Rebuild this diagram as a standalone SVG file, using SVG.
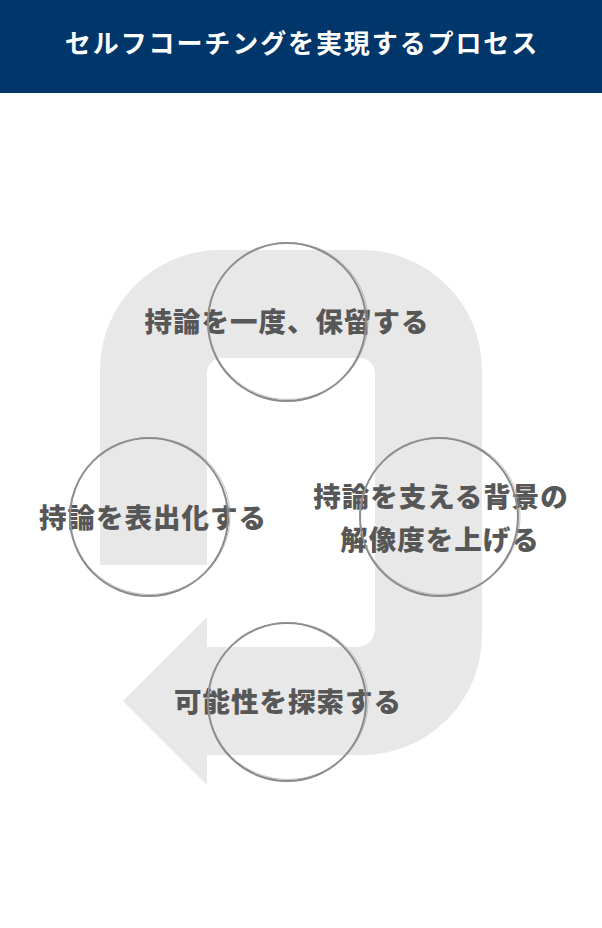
<svg xmlns="http://www.w3.org/2000/svg" width="602" height="928" viewBox="0 0 602 928">
<style>
.lbl{font-family:"Noto Sans CJK JP","Noto Sans",sans-serif;font-weight:900;font-size:27.5px;fill:#575757;text-anchor:middle;letter-spacing:1px}
.ttl{font-family:"Noto Sans CJK JP","Noto Sans",sans-serif;font-weight:700;font-size:26px;fill:#ffffff;text-anchor:middle;letter-spacing:1.9px}
.ring{fill:none;stroke:#8a8a8a;stroke-width:2}
.ring2{fill:none;stroke:#9a9a9a;stroke-width:1;opacity:0.6}
</style>
<rect x="0" y="0" width="602" height="928" fill="#ffffff"/>
<g id="header">
<rect x="0" y="0" width="602" height="93" fill="#00366a"/>
<text class="ttl" x="302" y="53">セルフコーチングを実現するプロセス</text>
</g>
<g id="connectors">
<path d="M100,565 L100,370 A120,120 0 0 1 220,250 L362,250 A120,120 0 0 1 482,370 L482,635 A120,120 0 0 1 362,755 L207,755 L207,785 L123,701 L207,617 L207,647 L357,647 A18,18 0 0 0 375,629 L375,373 A15,15 0 0 0 360,358 L222,358 A15,15 0 0 0 207,373 L207,565 Z" fill="#e8e8e8"/>
</g>
<g id="node-hold">
<text class="lbl" x="287" y="332">持論を一度、保留する</text>
<circle class="ring" cx="287" cy="322" r="79"/>
<ellipse class="ring2" cx="288" cy="321" rx="80" ry="78.5"/>
</g>
<g id="node-express">
<text class="lbl" x="153" y="528">持論を表出化する</text>
<circle class="ring" cx="149" cy="517" r="79"/>
<ellipse class="ring2" cx="150" cy="516" rx="80" ry="78.5"/>
</g>
<g id="node-background">
<text class="lbl" x="441" y="507">持論を支える背景の</text>
<text class="lbl" x="440" y="550">解像度を上げる</text>
<circle class="ring" cx="439" cy="517" r="79"/>
<ellipse class="ring2" cx="440" cy="516" rx="80" ry="78.5"/>
</g>
<g id="node-explore">
<text class="lbl" x="288" y="712">可能性を探索する</text>
<circle class="ring" cx="287" cy="702" r="79"/>
<ellipse class="ring2" cx="288" cy="701" rx="80" ry="78.5"/>
</g>
</svg>
